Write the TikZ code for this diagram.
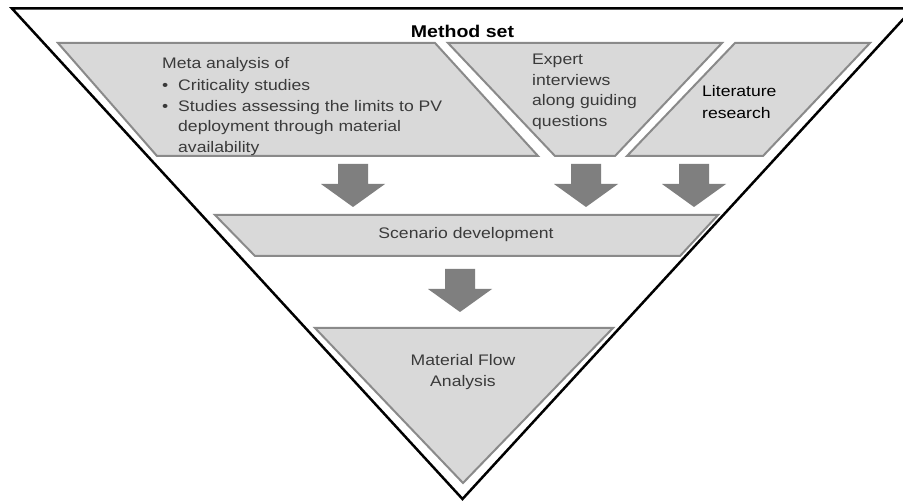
\documentclass[tikz,border=0pt]{standalone}
\usepackage{fontspec}
\setmainfont{Liberation Sans}[FakeStretch=1.15]
\definecolor{boxfill}{HTML}{D9D9D9}
\definecolor{boxline}{HTML}{8A8A8A}
\definecolor{arrowfill}{HTML}{7F7F7F}
\definecolor{textgray}{HTML}{3A3A3A}
% stacked lines whose baseline is the first line's baseline
\newcommand\leftlines[1]{\begin{tabular}[t]{@{}l@{}}#1\end{tabular}}
\newcommand\midlines[1]{\begin{tabular}[t]{@{}c@{}}#1\end{tabular}}
\newcommand\bulletitem{\makebox[16pt][l]{•}}
\tikzset{
  outline/.style={draw=black, line width=2.5pt, line join=miter},
  stage/.style={fill=boxfill, draw=boxline, line width=2pt, line join=miter},
  txt/.style={inner sep=0pt, text=textgray, font=\fontsize{15.3}{20.5}\selectfont},
  heading/.style={inner sep=0pt, text=black, font=\fontsize{17}{20}\selectfont\bfseries},
  flow/.pic={\fill[arrowfill] (-15,0) -- (15,0) -- (15,20) -- (32,20) -- (0,43)
             -- (-32,20) -- (-15,20) -- cycle;}
}
\begin{document}
\begin{tikzpicture}[x=1pt,y=-1pt]
\useasboundingbox (0,0) rectangle (903,502);
\fill[white] (0,0) rectangle (903,502);

% the enclosing funnel
\draw[outline] (12,8.5) -- (913,8.5) -- (462.5,499) -- cycle;
\node[heading, anchor=base] (title) at (462.5,37.3) {Method set};

% first row of methods
\draw[stage] (58,43) -- (435,43) -- (538,156) -- (157,156) -- cycle;
\draw[stage] (448,43) -- (722,43) -- (615,156) -- (555,156) -- cycle;
\draw[stage] (735,43) -- (870,43) -- (763,156) -- (627,156) -- cycle;

\node[txt, anchor=base west] (meta) at (162,69) {\leftlines{%
  Meta analysis of\\[1.5pt]
  \bulletitem Criticality studies\\
  \bulletitem Studies assessing the limits to PV\\
  \hspace*{16pt}deployment through material\\
  \hspace*{16pt}availability}};
\node[txt, anchor=base west] (expert) at (532,65) {\leftlines{%
  Expert\\ interviews\\ along guiding\\ questions}};
\node[txt, text=black, anchor=base west] (lit) at (702,96.7) {\leftlines{%
  Literature\\[1pt] research}};

% flow arrows into the scenario stage
\pic (a1) at (353,164) {flow};
\pic (a2) at (586,164) {flow};
\pic (a3) at (694,164) {flow};

% scenario stage
\draw[stage] (215,215) -- (718,215) -- (680,256) -- (255,256) -- cycle;
\node[txt, anchor=base] (scen) at (466,238.3) {Scenario development};

\pic (a4) at (460,269) {flow};

% material flow analysis stage
\draw[stage] (315,328) -- (613,328) -- (463,483) -- cycle;
\node[txt, anchor=base] (mfa) at (463,366) {\midlines{Material Flow\\ Analysis}};
\end{tikzpicture}
\end{document}
